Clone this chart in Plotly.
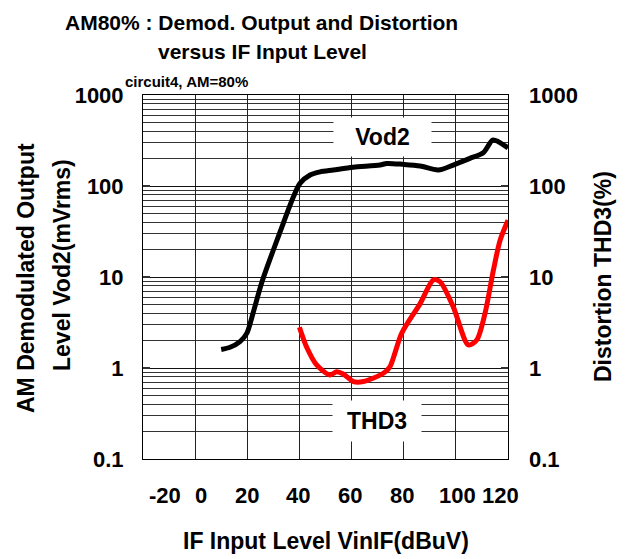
import plotly.graph_objects as go

# ---------------- data ----------------
vin_vod2 = [10, 13.4, 17.2, 19.8, 22.2, 25.5, 30, 33.8, 37.7, 40.2, 44.1, 47.9, 53,
            60.6, 70.9, 73.5, 79.8, 86.3, 93.3, 99, 105.4, 110.5, 114.1, 116.3, 120]
vod2 = [1.6, 1.69, 1.95, 2.4, 4.0, 8.6, 19.8, 38.9, 76, 107, 132, 143, 150,
        161, 170, 177, 173, 166, 150, 170, 201, 232, 320, 307, 262]

vin_thd3 = [40, 42.7, 46.6, 51.7, 54.3, 56.8, 60.7, 64.5, 72.2, 74.7, 79.2, 86.3,
            91.4, 93.9, 99, 104.8, 108, 111.2, 114.4, 117, 120]
thd3 = [2.8, 1.71, 1.08, 0.84, 0.91, 0.86, 0.71, 0.71, 0.875, 1.03, 2.4, 5.1,
        9.3, 8.9, 4.7, 1.79, 2.03, 4.0, 11.9, 25.5, 42]

x_ticks = [-20, 0, 20, 40, 60, 80, 100, 120]
x_tick_labels = ["-20", "0", "20", "40", "60", "80", "100", "120"]
y_ticks = [0.1, 1, 10, 100, 1000]
y_tick_labels = ["0.1", "1", "10", "100", "1000"]

title_l1 = "AM80% : Demod. Output and Distortion"
title_l2 = "versus IF Input Level"
subtitle = "circuit4, AM=80%"
x_title = "IF Input Level VinIF(dBuV)"
y_title_l1 = "AM Demodulated Output"
y_title_l2 = "Level Vod2(mVrms)"
y2_title = "Distortion THD3(%)"

# ---------------- layout geometry ----------------
W, H = 631, 559
L, R, T, B = 143, 508, 95, 459
FONT = "Liberation Sans, Arial, sans-serif"


def px(xp):
    return (xp - L) / (R - L)


def py(yp):
    return (B - yp) / (B - T)


# minor gridlines 2..9 for each decade
minor_vals = [m * d for d in [0.1, 1, 10, 100] for m in range(2, 10)]

fig = go.Figure()
fig.add_trace(go.Scatter(x=vin_vod2, y=vod2, mode="lines", name="Vod2",
                         line=dict(color="black", width=5, shape="spline", smoothing=0.8),
                         yaxis="y"))
fig.add_trace(go.Scatter(x=vin_thd3, y=thd3, mode="lines", name="THD3",
                         line=dict(color="#ff0000", width=5, shape="spline", smoothing=0.8),
                         yaxis="y2"))

axis_font = dict(family=FONT, size=22, color="black", weight="bold")

fig.update_layout(
    width=W, height=H,
    margin=dict(l=L, r=W - R, t=T, b=H - B, pad=0),
    paper_bgcolor="white", plot_bgcolor="white",
    showlegend=False,
    xaxis=dict(range=[-20, 120], tickvals=x_ticks, showticklabels=False,
               showgrid=True, gridcolor="#222", gridwidth=1,
               showline=True, linecolor="black", linewidth=1, mirror=True,
               zeroline=False, ticks=""),
    yaxis=dict(type="log", range=[-1, 3], tickvals=y_ticks, ticktext=y_tick_labels,
               tickfont=axis_font, ticklabelstandoff=14,
               showgrid=True, gridcolor="#111", gridwidth=1,
               minor=dict(tickvals=minor_vals, showgrid=True, gridcolor="#333",
                          gridwidth=1, ticks=""),
               showline=True, linecolor="black", linewidth=1, mirror=True,
               ticks="inside", ticklen=7, tickwidth=2, tickcolor="#333",
               zeroline=False),
    yaxis2=dict(type="log", range=[-1, 3], tickvals=y_ticks, ticktext=y_tick_labels,
                tickfont=axis_font, ticklabelstandoff=20,
                overlaying="y", side="right", showgrid=False,
                ticks="inside", ticklen=7, tickwidth=2, tickcolor="#333",
                showline=False, zeroline=False),
)

ann = []
# x tick labels (placed as in the reference)
x_label_px = [165, 201, 247, 298, 350, 402, 457, 500]
for lab, xp in zip(x_tick_labels, x_label_px):
    ann.append(dict(x=px(xp), y=py(495), xref="paper", yref="paper", text=lab,
                    showarrow=False, font=axis_font, xanchor="center", yanchor="middle"))

big = dict(family=FONT, size=23, color="black", weight="bold")
title_font = dict(family=FONT, size=21, color="black", weight="bold")
ann += [
    dict(x=px(261), y=py(22), text=title_l1, font=title_font),
    dict(x=px(262), y=py(52), text=title_l2, font=title_font),
    dict(x=px(186), y=py(82), text=subtitle, font=dict(family=FONT, size=15, color="black", weight="bold")),
    dict(x=px(326), y=py(541), text=x_title, font=big),
    dict(x=px(26), y=py(278), text=y_title_l1, font=big, textangle=-90),
    dict(x=px(62), y=py(265), text=y_title_l2, font=big, textangle=-90),
    dict(x=px(603), y=py(277), text=y2_title, font=big, textangle=-90),
    dict(x=px(382), y=py(137), text="Vod2", font=big, bgcolor="white", width=95, height=36),
    dict(x=px(377), y=py(421), text="THD3", font=big, bgcolor="white", width=86, height=38),
]
for a in ann:
    a.setdefault("xref", "paper")
    a.setdefault("yref", "paper")
    a.setdefault("showarrow", False)
    a.setdefault("xanchor", "center")
    a.setdefault("yanchor", "middle")
fig.update_layout(annotations=ann)

fig.write_html("out.html",
               config={"displayModeBar": False},
               post_script="document.body.style.margin='0';document.body.style.overflow='hidden';")
